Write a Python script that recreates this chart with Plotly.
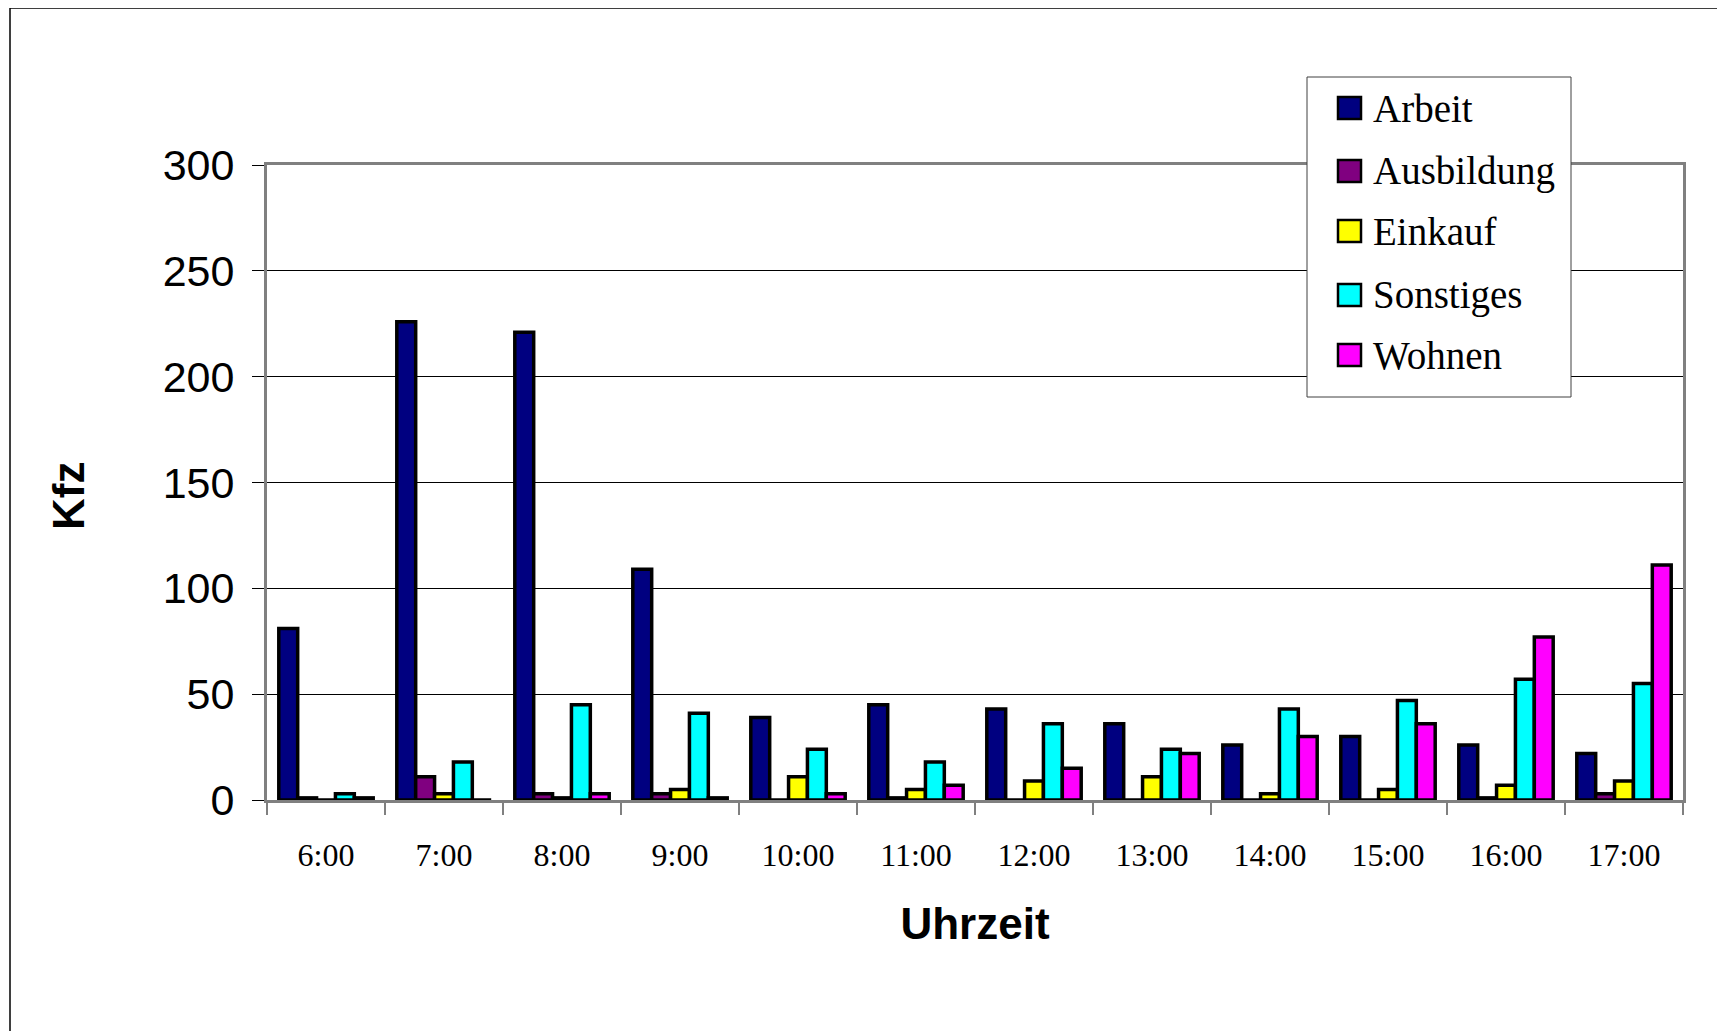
import plotly.graph_objects as go

# Daten
hours = ["6:00", "7:00", "8:00", "9:00", "10:00", "11:00",
         "12:00", "13:00", "14:00", "15:00", "16:00", "17:00"]
arbeit = [81, 226, 221, 109, 39, 45, 43, 36, 26, 30, 26, 22]
ausbildung = [1, 11, 3, 3, 0, 1, 0, 0, 0, 0, 1, 3]
einkauf = [0, 3, 1, 5, 11, 5, 9, 11, 3, 5, 7, 9]
sonstiges = [3, 18, 45, 41, 24, 18, 36, 24, 43, 47, 57, 55]
wohnen = [1, 0, 3, 1, 3, 7, 15, 22, 30, 36, 77, 111]

series = [
    ("Arbeit", arbeit, "#000080"),
    ("Ausbildung", ausbildung, "#800080"),
    ("Einkauf", einkauf, "#FFFF00"),
    ("Sonstiges", sonstiges, "#00FFFF"),
    ("Wohnen", wohnen, "#FF00FF"),
]

fig = go.Figure()
for name, vals, col in series:
    fig.add_trace(go.Bar(
        x=hours, y=vals, name=name, showlegend=False,
        marker=dict(color=col, line=dict(color="black", width=3.5)),
    ))

# Bildschirm-Pixel (Seite hat 8px Rand)
OFF = 8
W, H = 1725 - OFF, 1031 - OFF
L, R, T, B = 267, 1683, 165, 800
pw, ph = R - L, B - T

def px(x):
    return (x - L) / pw

def py(y):
    return (B - y) / ph

# äußerer Rahmen (rechts/unten abgeschnitten)
fig.add_shape(type="rect", xref="paper", yref="paper",
              x0=px(10), x1=px(1760), y0=py(8), y1=py(1070),
              line=dict(color="black", width=1.5), layer="below")

# Legende von Hand
fig.add_shape(type="rect", xref="paper", yref="paper",
              x0=px(1307), x1=px(1571), y0=py(77), y1=py(397),
              line=dict(color="#404040", width=1), fillcolor="white", layer="above")
leg_y = [108, 171, 231, 295, 355]
for (name, vals, col), yc in zip(series, leg_y):
    fig.add_shape(type="rect", xref="paper", yref="paper",
                  x0=px(1338), x1=px(1361), y0=py(yc + 11), y1=py(yc - 11),
                  line=dict(color="black", width=2.5), fillcolor=col, layer="above")
    fig.add_annotation(xref="paper", yref="paper", x=px(1371), y=py(yc),
                       xanchor="left", yanchor="middle", showarrow=False,
                       text=name,
                       font=dict(family="Liberation Serif", size=39, color="black"))

# Achsentitel Kfz (etwas unterhalb der Mitte)
fig.add_annotation(xref="paper", yref="paper", x=px(68), y=py(496),
                   xanchor="center", yanchor="middle", showarrow=False,
                   textangle=-90, text="<b>Kfz</b>",
                   font=dict(family="Liberation Sans", size=44, color="black"))

fig.update_layout(
    width=W, height=H,
    margin=dict(l=L - OFF, r=W - (R - OFF), t=T - OFF, b=H - (B - OFF)),
    paper_bgcolor="white", plot_bgcolor="white",
    barmode="group", bargap=0.2, bargroupgap=0,
    xaxis=dict(
        type="category", tickson="boundaries",
        ticks="outside", ticklen=12, tickcolor="#808080", tickwidth=2,
        showline=True, linecolor="#808080", linewidth=3, mirror=True,
        showgrid=False,
        tickfont=dict(family="Liberation Serif", size=32, color="black"),
        ticklabelstandoff=25,
        title=dict(text="<b>Uhrzeit</b>", standoff=36,
                   font=dict(family="Liberation Sans", size=44, color="black")),
    ),
    yaxis=dict(
        range=[0, 300], tickvals=[0, 50, 100, 150, 200, 250, 300],
        ticks="outside", ticklen=12, tickcolor="black", tickwidth=1,
        showline=True, linecolor="#808080", linewidth=3, mirror=True,
        showgrid=True, gridcolor="black", gridwidth=1, zeroline=False,
        tickfont=dict(family="Liberation Sans", size=43, color="black"),
        ticklabelstandoff=9,
    ),
)

fig.write_html("out.html")
